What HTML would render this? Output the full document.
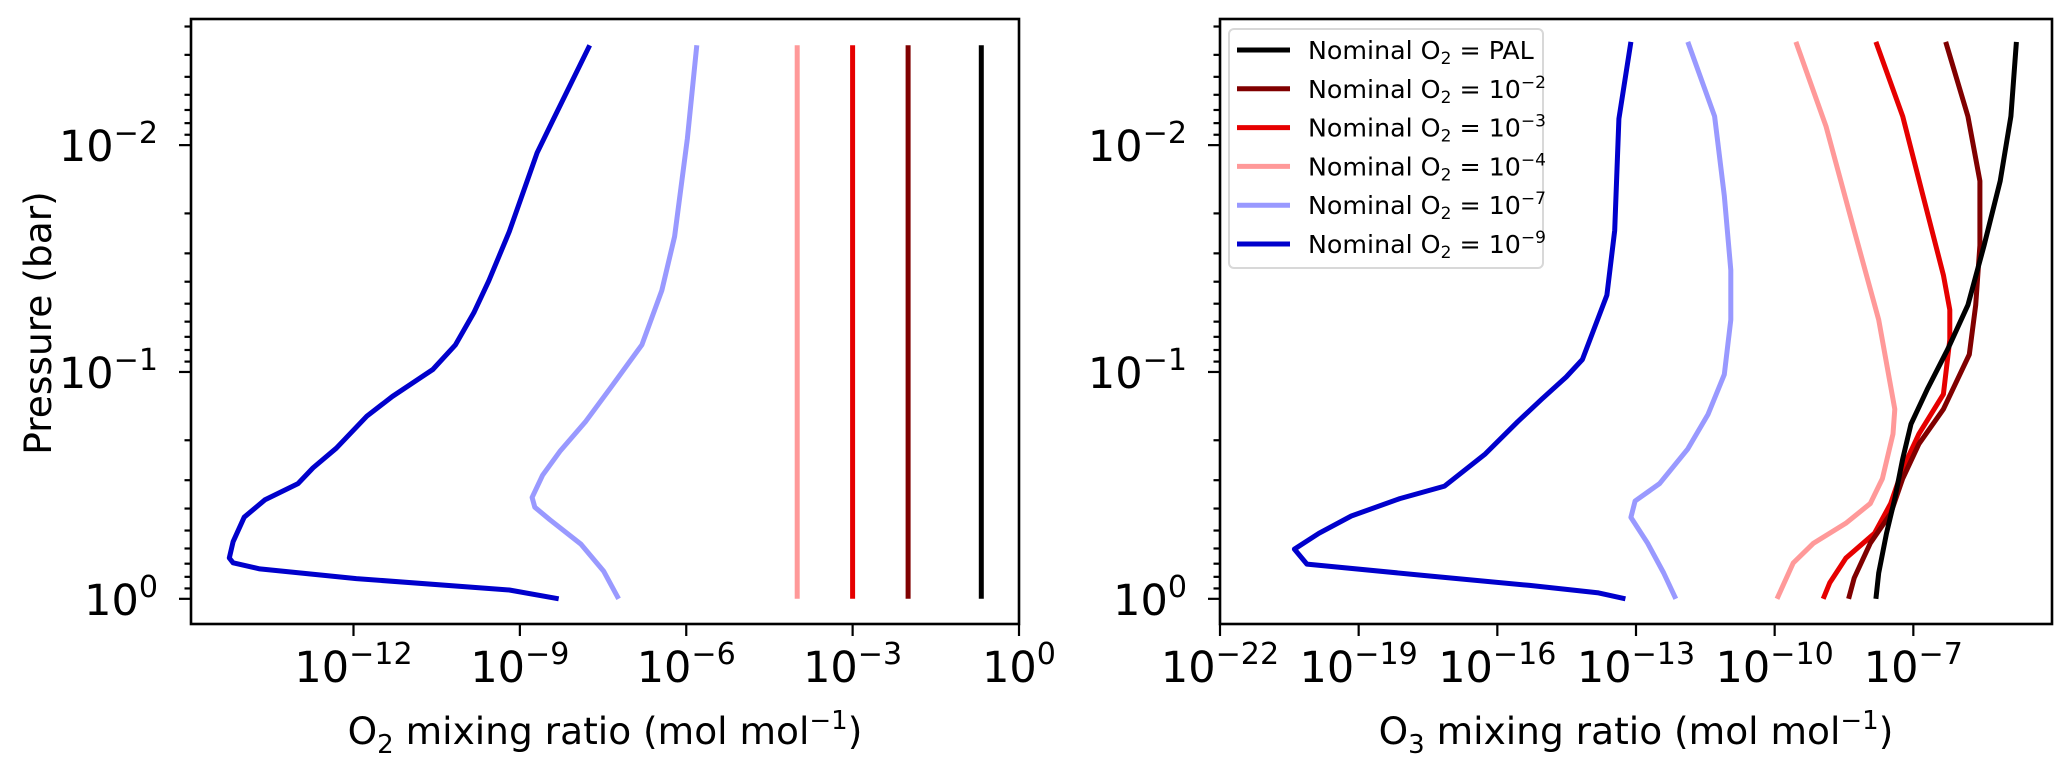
<!DOCTYPE html>
<html><head><meta charset="utf-8">
<style>
html,body{margin:0;padding:0;background:#fff;}
svg{display:block;font-family:"DejaVu Sans","Liberation Sans",sans-serif;}
</style></head>
<body>
<svg id="chart" width="2067" height="771" viewBox="0 0 2067 771" xmlns="http://www.w3.org/2000/svg"></svg>
<script>
// ---- data (log10 values) ----
const pressureTop = -2.44;
// Left panel O2 profiles
const o2Blue9X = [-7.74,-8.41,-8.69,-9.19,-9.56,-9.83,-10.16,-10.57,-11.30,-11.76,-12.31,-12.73,-13.0,-13.6,-13.97,-14.17,-14.24,-14.17,-13.69,-11.95,-9.19,-8.30];
const o2Blue9Y = [-2.44,-2.107,-1.966,-1.619,-1.402,-1.261,-1.12,-1.011,-0.892,-0.805,-0.664,-0.577,-0.508,-0.436,-0.36,-0.252,-0.18,-0.159,-0.132,-0.089,-0.039,0];
const o2Blue7X = [-5.81,-5.98,-6.21,-6.44,-6.80,-7.35,-7.81,-8.27,-8.59,-8.78,-8.73,-8.46,-7.90,-7.49,-7.22];
const o2Blue7Y = [-2.44,-2.03,-1.597,-1.359,-1.12,-0.935,-0.783,-0.653,-0.545,-0.447,-0.404,-0.349,-0.241,-0.122,0];
const o2Constant = [-4, -3, -2, -0.68]; // 1e-4, 1e-3, 1e-2, PAL
// Right panel O3 profiles
const o3Blue9X = [-13.11,-13.37,-13.46,-13.63,-14.16,-14.51,-15.04,-15.56,-16.26,-17.14,-18.11,-19.16,-19.86,-20.39,-20.12,-17.58,-15.30,-13.81,-13.23];
const o3Blue9Y = [-2.455,-2.116,-1.624,-1.339,-1.055,-0.978,-0.880,-0.781,-0.639,-0.497,-0.442,-0.365,-0.289,-0.219,-0.153,-0.103,-0.059,-0.026,0];
const o3Blue7X = [-11.88,-11.30,-11.09,-10.95,-10.95,-11.09,-11.44,-11.88,-12.49,-13.02,-13.11,-12.75,-12.40,-12.14];
const o3Blue7Y = [-2.455,-2.127,-1.777,-1.449,-1.230,-0.989,-0.814,-0.661,-0.508,-0.431,-0.359,-0.245,-0.114,0];
const o3PinkX = [-9.54,-8.89,-8.28,-7.75,-7.40,-7.44,-7.67,-7.93,-8.46,-9.16,-9.60,-9.95];
const o3PinkY = [-2.455,-2.083,-1.624,-1.230,-0.836,-0.727,-0.530,-0.420,-0.333,-0.245,-0.158,0];
const o3RedX = [-7.81,-7.23,-6.79,-6.35,-6.21,-6.21,-6.35,-6.88,-7.23,-7.49,-7.84,-8.46,-8.81,-8.95];
const o3RedY = [-2.455,-2.127,-1.777,-1.427,-1.274,-1.142,-0.902,-0.727,-0.573,-0.420,-0.289,-0.179,-0.070,0];
const o3DarkRedX = [-6.30,-5.82,-5.56,-5.56,-5.65,-5.79,-6.35,-6.88,-7.23,-7.49,-7.93,-8.28,-8.40];
const o3DarkRedY = [-2.455,-2.127,-1.842,-1.558,-1.295,-1.077,-0.836,-0.683,-0.530,-0.376,-0.245,-0.092,0];
const o3BlackX = [-4.77,-4.89,-5.12,-5.47,-5.82,-6.26,-6.70,-7.05,-7.23,-7.40,-7.58,-7.75,-7.81];
const o3BlackY = [-2.455,-2.127,-1.842,-1.558,-1.295,-1.098,-0.923,-0.770,-0.617,-0.442,-0.289,-0.114,0];
const leftXTicks = [-12,-9,-6,-3,0];
const rightXTicks = [-22,-19,-16,-13,-10,-7];
const yTicks = [-2,-1,0];
const legendLabels = ["PAL","−2","−3","−4","−7","−9"];

const C = {black:"#000000",dred:"#800000",red:"#e60000",pink:"#ff9999",lblue:"#9999ff",blue:"#0000cc"};
const NS="http://www.w3.org/2000/svg";
const svg=document.getElementById('chart');
function mk(tag,attrs,parent){const e=document.createElementNS(NS,tag);for(const k in attrs)e.setAttribute(k,attrs[k]);(parent||svg).appendChild(e);return e;}

const yTop=19, yBot=624, yMin=-2.556, yMax=0.111;
function Y(v){return yTop+(v-yMin)/(yMax-yMin)*(yBot-yTop);}
function makeX(x0,x1,lo,hi){return v=>x0+(v-lo)/(hi-lo)*(x1-x0);}
const XL=makeX(191,1019,-14.93,0);
const XR=makeX(1220,2052,-22,-4);
const TICK_FS=43, LABEL_FS=37.5, LEG_FS=25.3;

function line(g,xs,ys,X,color,name){
  const d=xs.map((x,i)=>(i?'L':'M')+X(x).toFixed(1)+' '+Y(ys[i]).toFixed(1)).join(' ');
  const p=mk('path',{d:d,fill:'none',stroke:color,'stroke-width':5,'stroke-linejoin':'round'},g);
  
  
}
function tenLabel(g,x,y,exp,anchor,size){
  const t=mk('text',{x:x,y:y,'font-size':size,'text-anchor':anchor,fill:'#000'},g);
  t.textContent='10';
  const s=mk('tspan',{dy:-size*0.42,'font-size':size*0.7},t);
  s.textContent=exp;
  return t;
}
function axes(name,x0,x1,X,xticks){
  const g=mk('g',{});
  
  
  for(let d=-3;d<=0;d++){
    for(let m=1;m<10;m++){
      const v=d+Math.log10(m);
      if(v<yMin||v>yMax)continue;
      const len=m===1?12:6.5;
      const tk=mk('line',{x1:x0-len,x2:x0,y1:Y(v),y2:Y(v),stroke:'#000','stroke-width':2.2},g);
      
      
    }
  }
  yTicks.forEach(v=>{
    const t=tenLabel(g,x0-33,Y(v)+16,v===0?'0':'−'+Math.abs(v),'end',TICK_FS);
    
    
  });
  xticks.forEach(v=>{
    const tk=mk('line',{x1:X(v),x2:X(v),y1:yBot,y2:yBot+12,stroke:'#000','stroke-width':2.2},g);
    
    
    const t=tenLabel(g,X(v),682,v===0?'0':'−'+Math.abs(v),'middle',TICK_FS);
    
    
  });
  return g;
}
function frame(g,x0,x1){
  const r=mk('rect',{x:x0,y:yTop,width:x1-x0,height:yBot-yTop,fill:'none',stroke:'#000','stroke-width':2.6},g);
  
  
}

// Left panel
const gl=axes('o2-panel',191,1019,XL,leftXTicks);
line(gl,o2Blue9X,o2Blue9Y,XL,C.blue,'o2-line-1e-9');
line(gl,o2Blue7X,o2Blue7Y,XL,C.lblue,'o2-line-1e-7');
const constColors=[C.pink,C.red,C.dred,C.black];
const constNames=['o2-line-1e-4','o2-line-1e-3','o2-line-1e-2','o2-line-pal'];
o2Constant.forEach((v,i)=>{line(gl,[v,v],[pressureTop,0],XL,constColors[i],constNames[i]);});
frame(gl,191,1019);
const yl=mk('text',{x:0,y:0,'font-size':LABEL_FS,'text-anchor':'middle',transform:'translate(51,323) rotate(-90)'},gl);
yl.textContent='Pressure (bar)';


function xlabel(g,cx,sub){
  const t=mk('text',{x:cx,y:744,'font-size':LABEL_FS,'text-anchor':'middle'},g);
  t.appendChild(document.createTextNode('O'));
  const s=mk('tspan',{dy:9,'font-size':26},t);s.textContent=sub;
  const r=mk('tspan',{dy:-9},t);r.textContent=' mixing ratio (mol mol';
  const e=mk('tspan',{dy:-15,'font-size':26},t);e.textContent='−1';
  const c=mk('tspan',{dy:15},t);c.textContent=')';
  
  
}
xlabel(gl,605,'2');

// Right panel
const gr=axes('o3-panel',1220,2052,XR,rightXTicks);
line(gr,o3Blue9X,o3Blue9Y,XR,C.blue,'o3-line-1e-9');
line(gr,o3Blue7X,o3Blue7Y,XR,C.lblue,'o3-line-1e-7');
line(gr,o3PinkX,o3PinkY,XR,C.pink,'o3-line-1e-4');
line(gr,o3RedX,o3RedY,XR,C.red,'o3-line-1e-3');
line(gr,o3DarkRedX,o3DarkRedY,XR,C.dred,'o3-line-1e-2');
line(gr,o3BlackX,o3BlackY,XR,C.black,'o3-line-pal');
frame(gr,1220,2052);
xlabel(gr,1636,'3');

// Legend
const lg=mk('g',{});


const lr=mk('rect',{x:1229,y:29,width:314,height:239,rx:5,fill:'#fff','fill-opacity':0.85,stroke:'#d8d8d8','stroke-width':2},lg);


const legColors=[C.black,C.dred,C.red,C.pink,C.lblue,C.blue];
legendLabels.forEach((lab,i)=>{
  const cy=50+i*38.8;
  const ln=mk('line',{x1:1237,x2:1290,y1:cy,y2:cy,stroke:legColors[i],'stroke-width':5},lg);
  
  
  const t=mk('text',{x:1308,y:cy+9,'font-size':LEG_FS},lg);
  t.appendChild(document.createTextNode('Nominal O'));
  const s=mk('tspan',{dy:5,'font-size':17},t);s.textContent='2';
  if(lab==='PAL'){const r=mk('tspan',{dy:-5},t);r.textContent=' = PAL';}
  else{
    const r=mk('tspan',{dy:-5},t);r.textContent=' = 10';
    const e=mk('tspan',{dy:-10,'font-size':17},t);e.textContent=lab;
  }
  
  
});
</script>
</body></html>
